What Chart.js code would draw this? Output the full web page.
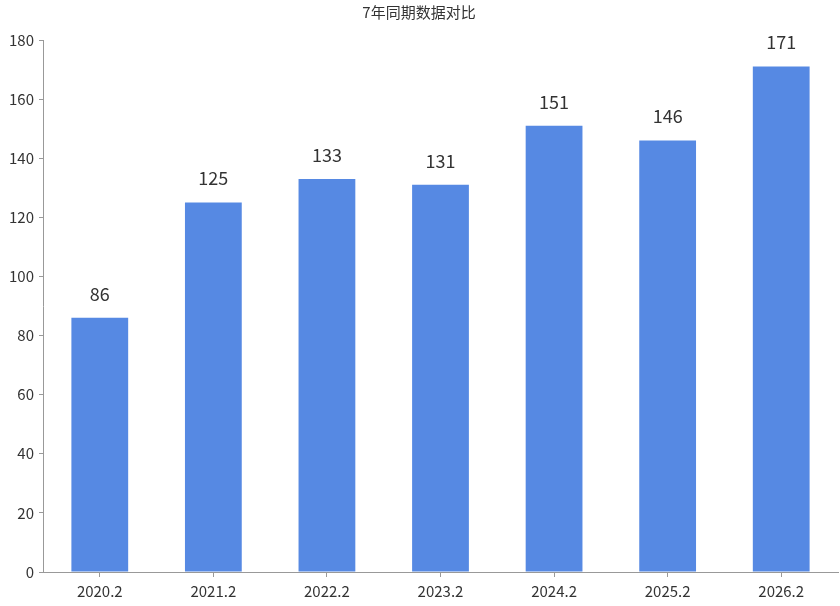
<!DOCTYPE html>
<html>
<head>
<meta charset="utf-8">
<script src="https://cdn.jsdelivr.net/npm/chart.js@4.4.0/dist/chart.umd.min.js"></script>
<style>
    html, body { margin: 0; padding: 0; background: #fff; }
    #wrap { width: 840px; height: 606px; }
</style>
</head>
<body>
<div id="wrap"><canvas id="barChart" width="840" height="606"></canvas></div>
<script>
// chart data
const categories = ['2020.2', '2021.2', '2022.2', '2023.2', '2024.2', '2025.2', '2026.2'];
const values = [86, 125, 133, 131, 151, 146, 171];
const yTicks = [0, 20, 40, 60, 80, 100, 120, 140, 160, 180];

const FONT = '"Noto Sans CJK SC", "Noto Sans", sans-serif';

// value labels above each bar
const valueLabels = {
    id: 'valueLabels',
    afterDatasetsDraw(chart) {
        const ctx = chart.ctx;
        const meta = chart.getDatasetMeta(0);
        ctx.save();
        ctx.font = '18px ' + FONT;
        ctx.fillStyle = '#333';
        ctx.textAlign = 'center';
        ctx.textBaseline = 'middle';
        meta.data.forEach((bar, i) => {
            ctx.fillText(String(values[i]), bar.x, bar.y - 24);
        });
        ctx.restore();
    }
};

new Chart(document.getElementById('barChart'), {
    type: 'bar',
    data: {
        labels: categories,
        datasets: [{
            data: values,
            backgroundColor: '#5689e3',
            borderWidth: 0,
            categoryPercentage: 0.5,
            barPercentage: 1
        }]
    },
    options: {
        responsive: false,
        animation: false,
        layout: {
            padding: { left: 0, right: 2, top: 0, bottom: 1 }
        },
        plugins: {
            legend: { display: false },
            tooltip: { enabled: false },
            title: {
                display: true,
                text: '7年同期数据对比',
                color: '#333',
                font: { family: FONT, size: 15, weight: 'normal' },
                padding: { top: 3, bottom: 19 }
            }
        },
        scales: {
            x: {
                grid: {
                    offset: false,
                    drawOnChartArea: false,
                    drawTicks: true,
                    tickLength: 5,
                    color: '#999'
                },
                border: { color: '#999' },
                ticks: {
                    color: '#333',
                    padding: 5,
                    font: { family: FONT, size: 15 }
                }
            },
            y: {
                min: 0,
                max: 180,
                afterBuildTicks(scale) {
                    scale.ticks = yTicks.map(v => ({ value: v }));
                },
                afterFit(scale) {
                    scale.width = 43;
                },
                grid: {
                    drawOnChartArea: false,
                    drawTicks: true,
                    tickLength: 4,
                    color: '#999'
                },
                border: { color: '#999' },
                ticks: {
                    color: '#333',
                    padding: 5,
                    font: { family: FONT, size: 15 }
                }
            }
        }
    },
    plugins: [valueLabels]
});
</script>
</body>
</html>
